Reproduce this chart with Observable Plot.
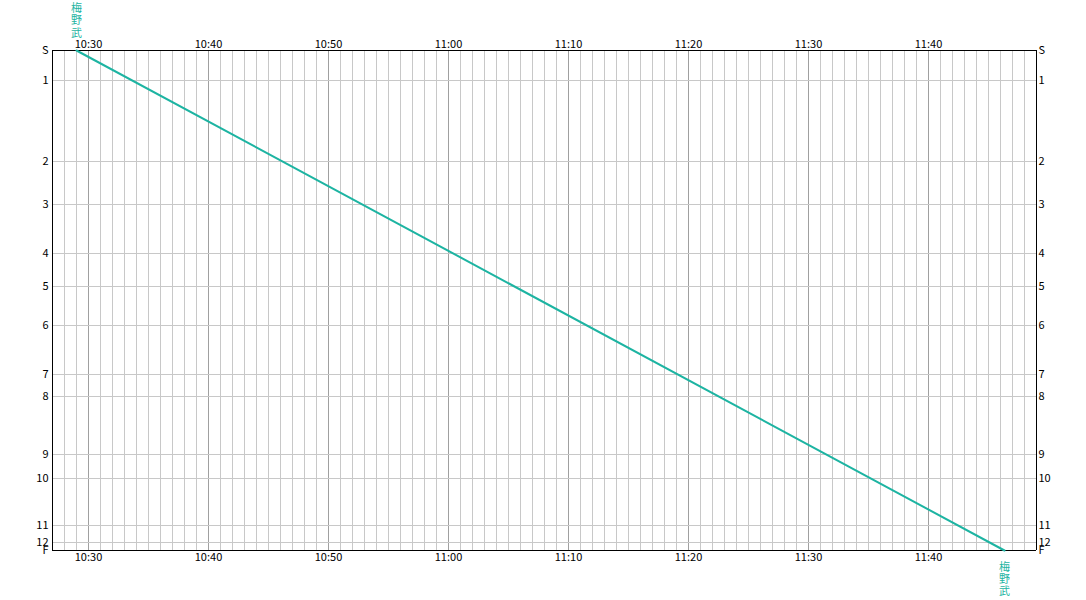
<!DOCTYPE html>
<html>
<head>
<meta charset="utf-8">
<script src="https://cdn.jsdelivr.net/npm/d3@7"></script>
<script src="https://cdn.jsdelivr.net/npm/@observablehq/plot@0.6"></script>
<style>
  html, body { margin: 0; padding: 0; background: #fff; }
  #chart svg { display: block; }
</style>
</head>
<body>
<div id="chart"></div>
<script>
// Stations (top to bottom) and their distance positions along the route
const stationNames = ["S", "1", "2", "3", "4", "5", "6", "7", "8", "9", "10", "11", "12", "F"];
const stationDist  = [0, 30, 111, 154, 203, 236, 275, 324, 346, 404, 428, 475, 492, 500];

// Time axis
const timeDomain = ["10:27", "11:49"];
const majorTickLabels = ["10:30", "10:40", "10:50", "11:00", "11:10", "11:20", "11:30", "11:40"];

// Train run
const trainName = "梅野武";
const trainStations = ["S", "F"];
const trainTimes = ["10:29:00", "11:46:20"];

const teal = "#1db4a2";

function t(s) {
  const [h, m, sec] = s.split(":").map(Number);
  return new Date(Date.UTC(2000, 0, 1, h, m, sec || 0));
}
const fmt = d3.utcFormat("%H:%M");

const t0 = t(timeDomain[0]), t1 = t(timeDomain[1]);
const minutes = d3.utcMinute.range(t0, new Date(+t1 + 1));
const majors = majorTickLabels.map(t);
const distOf = name => stationDist[stationNames.indexOf(name)];
const trainData = trainStations.map((s, i) => ({time: t(trainTimes[i]), dist: distOf(s)}));
const nameOf = d => stationNames[stationDist.indexOf(d)];

const chart = Plot.plot({
  width: 1086,
  height: 600,
  marginLeft: 52,
  marginRight: 50,
  marginTop: 50,
  marginBottom: 50,
  style: {fontFamily: "'Noto Sans CJK JP', 'Noto Sans', sans-serif", fontSize: "11px", color: "#000", background: "#fff"},
  x: {type: "utc", domain: [t0, t1]},
  y: {domain: [0, 500], range: [50, 550]},
  marks: [
    Plot.ruleX(minutes, {stroke: "#c8c8c8", strokeOpacity: 1}),
    Plot.ruleX(majors, {stroke: "#a0a0a0", strokeOpacity: 1}),
    Plot.ruleY(stationDist, {stroke: "#c8c8c8", strokeOpacity: 1}),
    Plot.ruleX([t0, t1], {stroke: "#000"}),
    Plot.ruleY([0, 500], {stroke: "#000"}),
    Plot.line(trainData, {x: "time", y: "dist", stroke: teal, strokeWidth: 2}),
    Plot.axisX({anchor: "top", ticks: majors, tickFormat: fmt, tickSize: 0, tickPadding: 3, label: null}),
    Plot.axisX({anchor: "bottom", ticks: majors, tickFormat: fmt, tickSize: 0, tickPadding: 3, label: null}),
    Plot.axisY({anchor: "left", ticks: stationDist, tickFormat: nameOf, tickSize: 0, tickPadding: 4, label: null}),
    Plot.axisY({anchor: "right", ticks: stationDist, tickFormat: nameOf, tickSize: 0, tickPadding: 2, label: null, textAnchor: "start"}),
    Plot.text([trainData[0]], {x: "time", y: "dist", text: () => trainName.split("").join("\n"), fill: teal, lineAnchor: "bottom", dy: -14, lineHeight: 1.1, fontSize: 11}),
    Plot.text([trainData[trainData.length - 1]], {x: "time", y: "dist", text: () => trainName.split("").join("\n"), fill: teal, lineAnchor: "top", dy: 12, lineHeight: 1.1, fontSize: 11})
  ]
});
document.getElementById("chart").appendChild(chart);
</script>
</body>
</html>
